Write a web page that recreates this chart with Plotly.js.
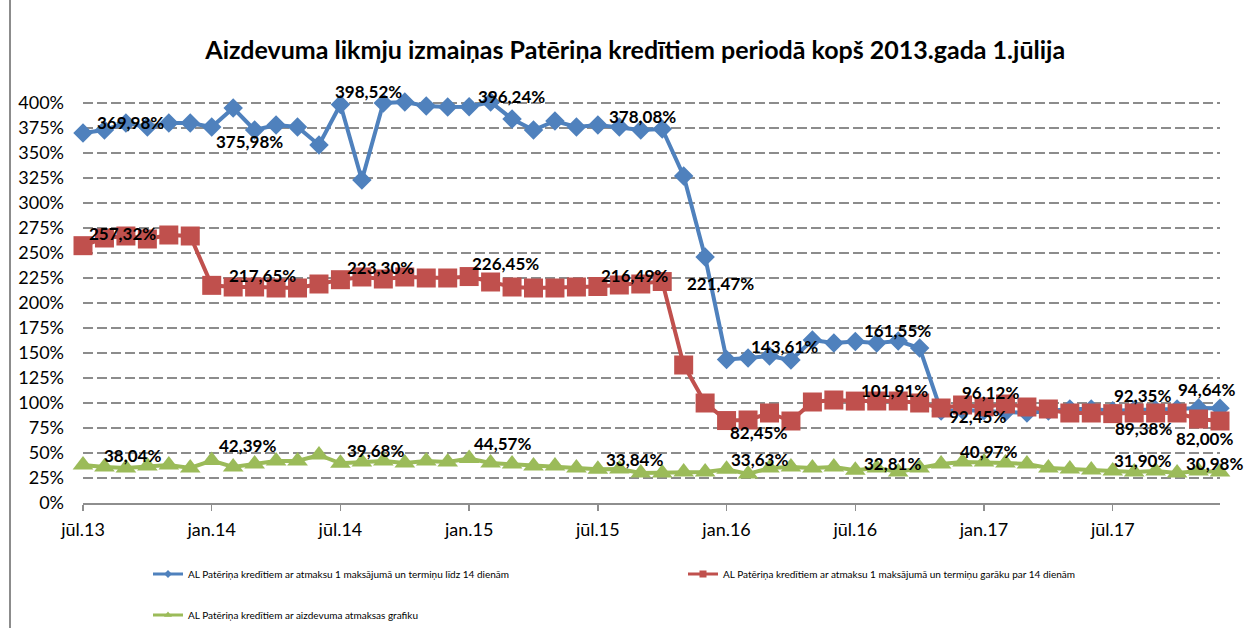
<!DOCTYPE html>
<html>
<head>
<meta charset="utf-8">
<script src="https://cdn.plot.ly/plotly-3.0.1.min.js"></script>
<style>html,body{margin:0;padding:0;background:#fff;}#chart{width:1248px;height:628px;}</style>
</head>
<body>
<div id="chart"></div>
<script>
// Months (categories), jūl.13 .. dec.17
const months = [
  'jūl.13','aug.13','sep.13','okt.13','nov.13','dec.13',
  'jan.14','feb.14','mar.14','apr.14','mai.14','jūn.14',
  'jūl.14','aug.14','sep.14','okt.14','nov.14','dec.14',
  'jan.15','feb.15','mar.15','apr.15','mai.15','jūn.15',
  'jūl.15','aug.15','sep.15','okt.15','nov.15','dec.15',
  'jan.16','feb.16','mar.16','apr.16','mai.16','jūn.16',
  'jūl.16','aug.16','sep.16','okt.16','nov.16','dec.16',
  'jan.17','feb.17','mar.17','apr.17','mai.17','jūn.17',
  'jūl.17','aug.17','sep.17','okt.17','nov.17','dec.17'
];
const tickLabels = ['jūl.13','jan.14','jūl.14','jan.15','jūl.15','jan.16','jūl.16','jan.17','jūl.17'];

const nameBlue  = 'AL Patēriņa kredītiem ar atmaksu 1 maksājumā un termiņu līdz 14 dienām';
const nameRed   = 'AL Patēriņa kredītiem ar atmaksu 1 maksājumā un termiņu garāku par 14 dienām';
const nameGreen = 'AL Patēriņa kredītiem ar aizdevuma atmaksas grafiku';

const blue = [
  369.98, 373, 380, 376, 380, 380,
  375.98, 395, 373, 378, 376, 358,
  398.52, 323, 400, 401, 397, 396,
  396.24, 401, 384, 373, 382, 376,
  378.08, 376, 373, 374, 327, 246,
  143.61, 145, 147, 143, 163, 160,
  161.55, 160, 162, 155, 92, 93,
  92.45, 91, 90, 92, 94, 94,
  92.35, 93, 93, 94, 95, 94.64
];
const red = [
  257.32, 265, 267, 264, 268, 267,
  217.65, 216, 216, 215, 215, 219,
  223.30, 226, 224, 226, 225, 225,
  226.45, 221, 216, 215, 215, 216,
  216.49, 218, 219, 221.47, 138, 100,
  82.45, 83, 90, 82, 101, 103,
  101.91, 102, 102, 100, 95, 98,
  96.12, 99, 96, 94, 90, 90,
  89.38, 90, 90, 90, 84, 82.00
];
const green = [
  38.04, 36, 35, 37, 38, 35,
  42.39, 36, 39, 42, 42, 48,
  39.68, 41, 42, 40, 42, 41,
  44.57, 40, 39, 37, 37, 35,
  33.84, 34, 30, 30, 31, 31,
  33.63, 29, 35, 36, 35, 36,
  32.81, 35, 31, 35, 39, 41,
  40.97, 40, 39, 35, 34, 33,
  31.90, 31, 32, 30, 32, 30.98
];

// Labelled points (index into months) and label offsets in px [dx, dy(down)]
const blueLabelIdx  = [0, 6, 12, 18, 24, 30, 36, 42, 48, 53];
const blueLabelOff  = [[47,-11],[38,14],[28,-13],[42,-10],[45,-8],[58,-13],[42,-11],[-7,6],[30,-15],[-14,-19]];
const redLabelIdx   = [0, 6, 12, 18, 24, 27, 30, 36, 42, 48, 53];
const redLabelOff   = [[39,-12],[51,-10],[40,-12],[36,-13],[37,-11],[58,2],[32,12],[39,-11],[6,-14],[31,15],[-16,17]];
const greenLabelIdx = [0, 6, 12, 18, 24, 30, 36, 42, 48, 53];
const greenLabelOff = [[49,-9],[36,-15],[35,-13],[33,-15],[37,-10],[33,-10],[37,-7],[4,-11],[30,-11],[-6,-9]];

const fmt = v => v.toFixed(2).replace('.', ',') + '%';

function labels(vals, idx, off) {
  return idx.map((i, k) => ({
    x: months[i], y: vals[i], xref: 'x', yref: 'y',
    text: fmt(vals[i]), showarrow: false,
    xanchor: 'center', yanchor: 'middle',
    xshift: off[k][0], yshift: -off[k][1],
    font: {family: 'Lato, sans-serif', size: 17, weight: 700, color: '#000'}
  }));
}

const colBlue = '#4F81BD', colRed = '#C0504D', colGreen = '#9BBB59';

const traces = [
  {x: months, y: blue, name: nameBlue, type: 'scatter', mode: 'lines+markers', cliponaxis: false, showlegend: false,
   line: {color: colBlue, width: 4}, marker: {symbol: 'diamond', size: 15, color: colBlue}},
  {x: months, y: red, name: nameRed, type: 'scatter', mode: 'lines+markers', cliponaxis: false, showlegend: false,
   line: {color: colRed, width: 4}, marker: {symbol: 'square', size: 19, color: colRed}},
  {x: months, y: green, name: nameGreen, type: 'scatter', mode: 'lines+markers', cliponaxis: false, showlegend: false,
   line: {color: colGreen, width: 4}, marker: {symbol: 'triangle-up', size: 18, color: colGreen}},
  // legend entries (small symbols, as in the reference legend)
  {x: [null], y: [null], name: nameBlue, type: 'scatter', mode: 'lines+markers', legend: 'legend',
   line: {color: colBlue, width: 3}, marker: {symbol: 'diamond', size: 6, color: colBlue}},
  {x: [null], y: [null], name: nameRed, type: 'scatter', mode: 'lines+markers', legend: 'legend',
   line: {color: colRed, width: 3}, marker: {symbol: 'square', size: 7, color: colRed}},
  {x: [null], y: [null], name: nameGreen, type: 'scatter', mode: 'lines+markers', legend: 'legend2',
   line: {color: colGreen, width: 3}, marker: {symbol: 'triangle-up', size: 7, color: colGreen}}
];

const layout = {
  width: 1248, height: 628,
  margin: {l: 83, r: 28, t: 98, b: 125},
  paper_bgcolor: '#fff', plot_bgcolor: '#fff',
  font: {family: 'Lato, sans-serif', color: '#000'},
  showlegend: true,
  title: {
    text: 'Aizdevuma likmju izmaiņas Patēriņa kredītiem periodā kopš 2013.gada 1.jūlija',
    font: {family: 'Lato, sans-serif', size: 25, weight: 700, color: '#000'},
    xref: 'container', x: 0.509, xanchor: 'center',
    yref: 'container', y: 1 - 50 / 628, yanchor: 'middle'
  },
  xaxis: {
    type: 'category', range: [0, months.length - 1],
    tickmode: 'array', tickvals: tickLabels, ticktext: tickLabels,
    showgrid: false, zeroline: false,
    showline: true, linecolor: '#8e8e8e', linewidth: 1.5,
    ticks: 'outside', ticklen: 6, tickcolor: '#8e8e8e', tickwidth: 1.5,
    ticklabelstandoff: 4,
    tickfont: {size: 18, color: '#000'}, automargin: false, fixedrange: true
  },
  yaxis: {
    range: [0, 405], tick0: 0, dtick: 25, ticksuffix: '%',
    showgrid: true, gridcolor: '#8c8c8c', gridwidth: 1.5, griddash: '10px,4px',
    zeroline: false, showline: false, ticks: '',
    ticklabelstandoff: 18,
    tickfont: {size: 18, color: '#000'}, automargin: false, fixedrange: true
  },
  legend: {
    orientation: 'h', xref: 'container', yref: 'container',
    x: 148 / 1248, y: 1 - 574 / 628, xanchor: 'left', yanchor: 'middle',
    entrywidth: 490, entrywidthmode: 'pixels',
    font: {size: 10, color: '#000'}, bgcolor: 'rgba(0,0,0,0)'
  },
  legend2: {
    orientation: 'h', xref: 'container', yref: 'container',
    x: 148 / 1248, y: 1 - 615 / 628, xanchor: 'left', yanchor: 'middle',
    font: {size: 10, color: '#000'}, bgcolor: 'rgba(0,0,0,0)'
  },
  shapes: [
    {type: 'line', xref: 'paper', yref: 'paper',
     x0: (10 - 83) / 1137, x1: (10 - 83) / 1137, y0: (503 - 628) / 405, y1: 503 / 405,
     line: {color: '#8c8c8c', width: 2}}
  ],
  annotations: [].concat(
    labels(blue, blueLabelIdx, blueLabelOff),
    labels(red, redLabelIdx, redLabelOff),
    labels(green, greenLabelIdx, greenLabelOff)
  )
};

Plotly.newPlot('chart', traces, layout, {displayModeBar: false, staticPlot: true});
</script>
</body>
</html>
